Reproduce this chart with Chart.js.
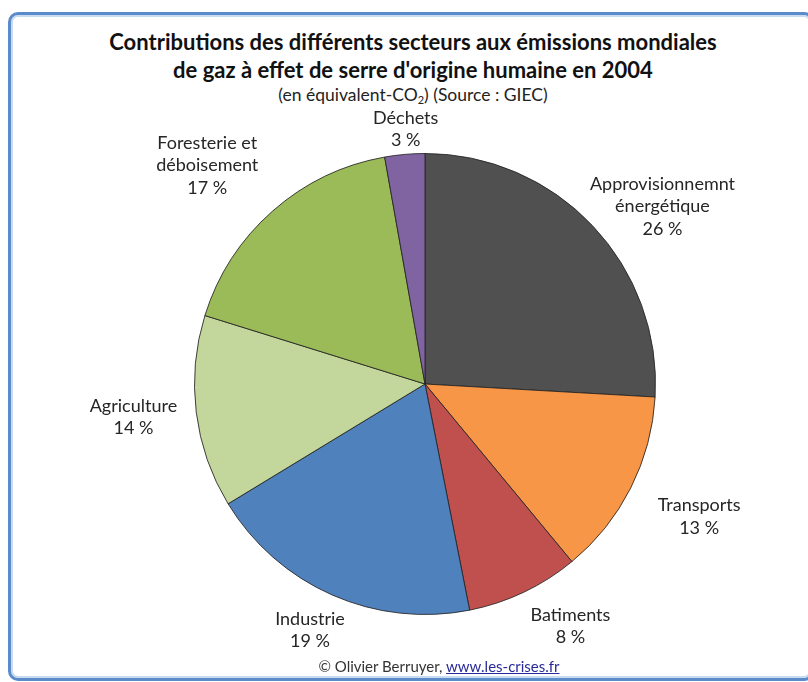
<!DOCTYPE html>
<html>
<head>
<meta charset="utf-8">
<script src="https://cdn.jsdelivr.net/npm/chart.js@4"></script>
<style>
  html, body { margin: 0; padding: 0; background: #ffffff; }
  body { width: 808px; height: 682px; position: relative; overflow: hidden; font-family: Lato, "Open Sans", sans-serif; color: #262626; }
  #frame { position: absolute; left: 8px; top: 12px; width: 800px; height: 663px; border: 3px solid #5b8bc8; border-radius: 10px; box-shadow: inset 0 0 0 2px #c9dbf0; background: #ffffff; }
  #wrap { position: absolute; left: 0; top: 0; width: 808px; height: 682px; }
  .t { position: absolute; left: 0; width: 826px; text-align: center; white-space: nowrap; }
  #t1 { top: 28px; font-size: 22px; font-weight: bold; color: #111; }
  #t2 { top: 56px; font-size: 22px; font-weight: bold; color: #111; }
  #t3 { top: 84px; font-size: 17.5px; color: #222; }
  #foot { top: 657px; left: 0; width: 878px; font-size: 15px; color: #333; }
  #foot a { color: #2a2a9a; text-decoration: underline; }
  sub { font-size: 11px; vertical-align: -3px; }
</style>
</head>
<body>
<div id="frame"></div>
<div class="t" id="t1">Contributions des différents secteurs aux émissions mondiales</div>
<div class="t" id="t2">de gaz à effet de serre d'origine humaine en 2004</div>
<div class="t" id="t3">(en équivalent-CO<sub>2</sub>) (Source : GIEC)</div>
<div id="wrap"><canvas id="c" width="808" height="682"></canvas></div>
<div class="t" id="foot">© Olivier Berruyer, <a href="#">www.les-crises.fr</a></div>
<script>
// ---- data ----
const categories = ["Approvisionnemnt énergétique", "Transports", "Batiments", "Industrie", "Agriculture", "Foresterie et déboisement", "Déchets"];
const labelLines = [["Approvisionnemnt", "énergétique"], ["Transports"], ["Batiments"], ["Industrie"], ["Agriculture"], ["Foresterie et", "déboisement"], ["Déchets"]];
const shares = [25.9, 13.1, 7.9, 19.4, 13.5, 17.4, 2.8];
const percentLabels = ["26 %", "13 %", "8 %", "19 %", "14 %", "17 %", "3 %"];
const colors = ["#505050", "#f79646", "#c0504d", "#4f81bd", "#c3d69b", "#9bbb59", "#8064a2"];

// label placement (relative to each slice: distance beyond the rim, angular nudge in degrees)
const labelDistance = [66, 74, 52, 41, 63, 78, 25];
const labelAngleShift = [6.6, -1.0, -5.6, 1.3, 0.5, -3.5, 0.7];

const outsideLabels = {
  id: 'outsideLabels',
  afterDatasetsDraw(chart) {
    const ctx = chart.ctx;
    const meta = chart.getDatasetMeta(0);
    ctx.save();
    ctx.font = '18px Lato, "Open Sans", sans-serif';
    ctx.fillStyle = '#262626';
    ctx.textAlign = 'center';
    ctx.textBaseline = 'middle';
    const lh = 22.5;
    meta.data.forEach((arc, i) => {
      const p = arc.getProps(['x', 'y', 'startAngle', 'endAngle', 'outerRadius'], true);
      const mid = (p.startAngle + p.endAngle) / 2 + labelAngleShift[i] * Math.PI / 180;
      const d = p.outerRadius + labelDistance[i];
      const cx = p.x + d * Math.cos(mid);
      const cy = p.y + d * Math.sin(mid);
      const lines = labelLines[i].concat([percentLabels[i]]);
      const h = lines.length * lh;
      lines.forEach((l, k) => {
        ctx.fillText(l, cx, cy - h / 2 + lh / 2 + k * lh);
      });
    });
    ctx.restore();
  }
};

new Chart(document.getElementById('c'), {
  type: 'pie',
  data: {
    labels: categories,
    datasets: [{
      data: shares,
      backgroundColor: colors,
      borderColor: 'rgba(35,35,35,0.85)',
      borderWidth: 1
    }]
  },
  options: {
    responsive: false,
    animation: false,
    layout: { padding: { top: 153, bottom: 67, left: 100, right: 58 } },
    plugins: {
      legend: { display: false },
      tooltip: { enabled: false },
      title: { display: false }
    }
  },
  plugins: [outsideLabels]
});
</script>
</body>
</html>
